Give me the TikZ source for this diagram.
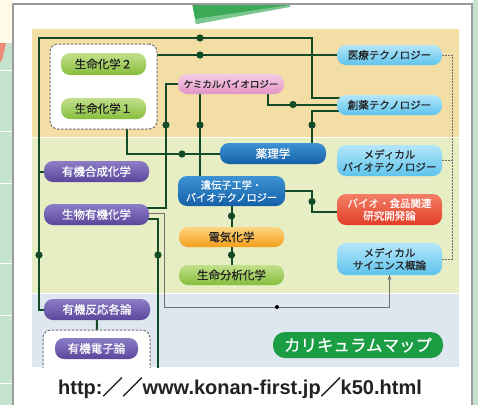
\documentclass[tikz,border=0pt]{standalone}
\usepackage{fontspec}
\setmainfont{Liberation Sans}
\newfontfamily\jp{Noto Sans CJK JP}[FakeBold=0.6]
\newfontfamily\jpb{Noto Sans CJK JP}[FakeBold=1.6]
\usetikzlibrary{calc,arrows.meta}
\definecolor{cTan}{HTML}{F3DFA6}
\definecolor{cLGreen}{HTML}{E8EEC4}
\definecolor{cLBlue}{HTML}{DEE6F0}
\definecolor{cCream}{HTML}{FFFBE8}
\definecolor{cSide}{HTML}{C4E3CE}
\definecolor{cSalmon}{HTML}{F08A78}
\definecolor{cFrame}{HTML}{9A9A9A}
\definecolor{cRibbon}{HTML}{3DAA58}
\definecolor{cRibbonL}{HTML}{7CC68F}
\definecolor{cLine}{HTML}{134A28}
\definecolor{cTx}{HTML}{222222}
\definecolor{gTop}{HTML}{C3E08C}
\definecolor{gBot}{HTML}{86BE3C}
\definecolor{pTop}{HTML}{F5CDE6}
\definecolor{pBot}{HTML}{E294C6}
\definecolor{bTop}{HTML}{B4E6FA}
\definecolor{bBot}{HTML}{5EC3EC}
\definecolor{dTop}{HTML}{3D93D4}
\definecolor{dBot}{HTML}{1460A8}
\definecolor{uTop}{HTML}{8C7DC6}
\definecolor{uBot}{HTML}{5A479C}
\definecolor{rTop}{HTML}{F47F66}
\definecolor{rBot}{HTML}{E23E28}
\definecolor{oTop}{HTML}{FCD581}
\definecolor{oBot}{HTML}{F59E1A}
\definecolor{mGreen}{HTML}{1B9E43}
\definecolor{cDash}{HTML}{6E6E6E}
\definecolor{cGrayLine}{HTML}{707070}
\pgfdeclarelayer{back}
\pgfdeclarelayer{lines}
\pgfsetlayers{back,lines,main}
\tikzset{
  conn/.style={draw=cLine, line width=2pt},
  thinline/.style={draw=cGrayLine, line width=0.8pt},
  dotline/.style={draw=cDash, line width=1pt, dash pattern=on 1.5pt off 1.5pt},
  pill/.style={rounded corners=9pt, minimum height=21pt, minimum width=105pt, inner sep=0pt,
     align=center, text=cTx, font=\jp\fontsize{11.5}{13}\selectfont},
  gpill/.style={pill, top color=gTop, bottom color=gBot},
  ppill/.style={pill, top color=pTop, bottom color=pBot, font=\jp\fontsize{9.5}{11}\selectfont},
  bpill/.style={pill, top color=bTop, bottom color=bBot, font=\jp\fontsize{10.5}{12.5}\selectfont},
  dpill/.style={pill, top color=dTop, bottom color=dBot, text=white},
  upill/.style={pill, top color=uTop, bottom color=uBot, text=white},
  rpill/.style={pill, top color=rTop, bottom color=rBot, text=white, font=\jp\fontsize{10.5}{12.5}\selectfont},
  opill/.style={pill, top color=oTop, bottom color=oBot},
  dbox/.style={draw=cDash, fill=white, line width=1pt, dash pattern=on 2.5pt off 1.5pt, rounded corners=8pt, inner sep=0pt},
}
\begin{document}
\begin{tikzpicture}[x=1pt,y=-1pt]
\useasboundingbox (0,0) rectangle (478,405);
\begin{pgfonlayer}{back}
  \fill[white] (0,0) rectangle (478,405);
  \fill[cCream] (0,0) rectangle (12,43);
  \fill[cSide] (0,43) rectangle (12,405);
  \foreach \yy in {70,131,183,263,315,383} \draw[white, line width=0.8pt] (0,\yy) -- (12,\yy);
  \fill[cSalmon] (0,43) -- (6,43) -- (2,60) -- (0,62) -- cycle;
  \fill[cSide] (473,0) rectangle (478,405);
  \fill[cTan] (32,29) rectangle (459,136.5);
  \fill[cLGreen] (32,138) rectangle (459,292.5);
  \fill[cLBlue] (32,294) rectangle (459,367);
  \fill[cRibbon] (192,3) -- (290,3) -- (290,6) -- (196,24) -- cycle;
  \fill[cRibbonL] (195,19) -- (290,5) -- (290,7) -- (196,24) -- cycle;
  \draw[cFrame, line width=2.2pt] (13,405) -- (13,4) -- (472,4) -- (472,405);
\end{pgfonlayer}

% nodes
\node[dbox, minimum width=107pt, minimum height=85pt] (box1) at (103.5,86.5) {};
\node[gpill, minimum width=85pt, minimum height=22pt] (s2) at (103.5,64) {生命化学２};
\node[gpill, minimum width=85pt] (s1) at (103.5,108.5) {生命化学１};
\node[ppill, minimum width=106pt, minimum height=20pt] (chem) at (231,84) {ケミカルバイオロジー};
\node[bpill, minimum height=20pt] (iryo) at (389.5,55) {医療テクノロジー};
\node[bpill, minimum height=20pt] (soyaku) at (389.5,105) {創薬テクノロジー};
\node[dpill, minimum width=106pt] (yakuri) at (273,153.5) {薬理学};
\node[bpill, minimum height=31pt] (mbt) at (389.5,160.5) {メディカル\\バイオテクノロジー};
\node[rpill, minimum height=31pt] (bio) at (389.5,209.5) {バイオ・食品関連\\研究開発論};
\node[bpill, minimum height=32pt] (msci) at (389.5,259) {メディカル\\サイエンス概論};
\node[dpill, minimum width=107pt, minimum height=30pt, font=\jp\fontsize{10.2}{12.5}\selectfont] (iden) at (231.5,191) {遺伝子工学・\\バイオテクノロジー};
\node[opill, minimum height=20pt] (denki) at (231.5,237) {電気化学};
\node[gpill, minimum height=20pt] (bunseki) at (231.5,275) {生命分析化学};
\node[upill] (gosei) at (96.5,171.5) {有機合成化学};
\node[upill] (seiyu) at (96.5,214.5) {生物有機化学};
\node[upill, minimum width=106pt] (hanno) at (97,309.5) {有機反応各論};
\begin{scope}
  \clip (32,29) rectangle (459,367);
  \node[dbox, minimum width=107pt, minimum height=56pt] (box2) at (96.5,358) {};
  \node[upill, minimum width=83pt] (denshi) at (96.5,348.5) {有機電子論};
\end{scope}
\node[pill, fill=mGreen, minimum width=170pt, minimum height=26pt, rounded corners=12pt, text=white,
      font=\jp\fontsize{16.5}{18}\selectfont] (map) at (358,345) {カリキュラムマップ};
\node[text=cTx, font=\bfseries\fontsize{20}{22}\selectfont, inner sep=0pt] (url) at (240,388)
  {http:{\jpb ／／}www.konan-first.jp{\jpb ／}k50.html};

% connectors
\begin{pgfonlayer}{lines}
\begin{scope}
  \clip (32,29) rectangle (459,367);
  \coordinate (tl) at (39,38);
  \coordinate (tr) at (312,98);
  \draw[conn] (hanno.center) -| (tl) -| (tr) -- (soyaku.center |- tr);
  \draw[conn] (gosei.center) -- (39,171.5);
  \draw[conn] (box1.center |- iryo.west) -- (iryo.center);
  \draw[conn] (s2.center) -- (s1.center);
  \draw[conn] (box1.center -| 127,0) |- (yakuri.center);
  \draw[conn] (seiyu.center |- 0,208) -| (166,84) -- (chem.center);
  \draw[conn] (chem.center -| 200,0) -- (iden.center -| 200,0);
  \draw[conn] (chem.center -| 268,0) |- (soyaku.center);
  \draw[conn] (yakuri.center -| 312,0) |- (soyaku.center |- 0,111);
  \coordinate (j1) at (312,212);
  \draw[conn] (iden.center) -| (j1) -- (bio.center |- j1);
  \draw[conn] (iden.center) -- (denki.center);
  \draw[conn] (denki.center) -- (bunseki.center);
  \coordinate (bl) at (158,372);
  \draw[conn] (seiyu.center |- 0,219) -| (bl);
  \coordinate (g1) at (164,307);
  \draw[thinline] (seiyu.center |- 0,213) -| (g1) -| (msci.center);
  \draw[conn] (hanno.center) -- (denshi.center);
  \coordinate (db) at (96.5,372);
  \draw[conn] (denshi.center) -- (db);
  \coordinate (rx) at (452,0);
  \draw[dotline] (iryo.east) -- (iryo.east -| rx) -- (msci.east -| rx) -- (msci.east);
  \draw[dotline] (mbt.east) -- (mbt.east -| rx);
  \foreach \p in {(200,38),(200,55),(166,125),(200,125),(293,104.5),(312,125),(182,154),(312,201.5),(231.5,216),(231.5,255),(39,255),(158,255)}
    \fill[cLine] \p circle (3.6pt);
  \fill[black] (277,307) circle (2pt);
\end{scope}
\end{pgfonlayer}
\draw[thinline, -{Stealth[length=5pt,width=4pt]}] (389.5,281) -- (msci.south);
\end{tikzpicture}
\end{document}
